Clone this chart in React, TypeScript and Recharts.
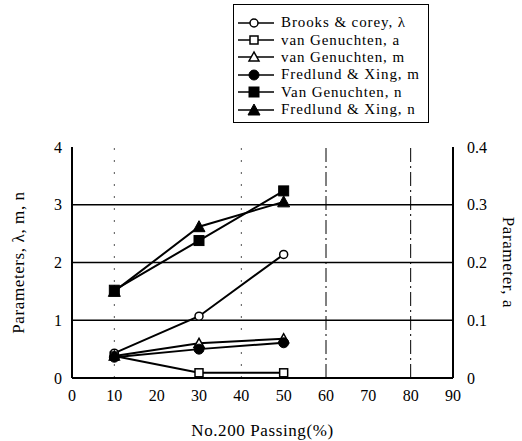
import React from 'react';
import { LineChart, Line, XAxis, YAxis, ReferenceLine } from 'recharts';

const passing = [10, 30, 50];
const brooksLambda = [0.43, 1.07, 2.14];
const vgA = [0.038, 0.009, 0.009];
const vgM = [0.38, 0.6, 0.68];
const fxM = [0.36, 0.5, 0.61];
const vgN = [1.52, 2.38, 3.24];
const fxN = [1.5, 2.62, 3.05];

const xTicks = [0, 10, 20, 30, 40, 50, 60, 70, 80, 90];
const leftTicks = [0, 1, 2, 3, 4];
const rightTicks = [0, 0.1, 0.2, 0.3, 0.4];

const data = passing.map((p, i) => ({
  x: p,
  bl: brooksLambda[i],
  va: vgA[i],
  vm: vgM[i],
  fm: fxM[i],
  vn: vgN[i],
  fn: fxN[i],
}));

type Shape = 'oc' | 'os' | 'ot' | 'fc' | 'fs' | 'ft';

const marker = (shape: Shape, cx: number, cy: number, key?: any) => {
  const sw = 1.5;
  switch (shape) {
    case 'oc':
      return <circle key={key} cx={cx} cy={cy} r={4} fill="#fff" stroke="#000" strokeWidth={sw} />;
    case 'os':
      return <rect key={key} x={cx - 4} y={cy - 4} width={8} height={8} fill="#fff" stroke="#000" strokeWidth={sw} />;
    case 'ot':
      return <polygon key={key} points={`${cx},${cy - 5} ${cx - 5},${cy + 4} ${cx + 5},${cy + 4}`} fill="#fff" stroke="#000" strokeWidth={sw} />;
    case 'fc':
      return <circle key={key} cx={cx} cy={cy} r={5} fill="#000" stroke="#000" />;
    case 'fs':
      return <rect key={key} x={cx - 5} y={cy - 5} width={10} height={10} fill="#000" stroke="#000" />;
    case 'ft':
      return <polygon key={key} points={`${cx},${cy - 6} ${cx - 6},${cy + 5} ${cx + 6},${cy + 5}`} fill="#000" stroke="#000" />;
  }
};

const dotFn = (shape: Shape) => (props: any) => marker(shape, props.cx, props.cy, `${shape}-${props.index}`);

const series: { key: string; name: string; shape: Shape; axis: string }[] = [
  { key: 'bl', name: 'Brooks & corey, λ', shape: 'oc', axis: 'left' },
  { key: 'va', name: 'van Genuchten, a', shape: 'os', axis: 'right' },
  { key: 'vm', name: 'van Genuchten, m', shape: 'ot', axis: 'left' },
  { key: 'fm', name: 'Fredlund & Xing, m', shape: 'fc', axis: 'left' },
  { key: 'vn', name: 'Van Genuchten, n', shape: 'fs', axis: 'left' },
  { key: 'fn', name: 'Fredlund & Xing, n', shape: 'ft', axis: 'left' },
];

const font = '"Liberation Serif", "DejaVu Serif", serif';

const LegendBox = () => (
  <div
    style={{
      position: 'absolute',
      left: 233,
      top: 4,
      border: '1.5px solid #000',
      width: 196,
      height: 119,
      boxSizing: 'border-box',
      padding: '9px 0 0 0',
      background: '#fff',
      fontFamily: font,
      fontSize: 15,
      color: '#000',
      overflow: 'hidden',
    }}
  >
    {series.map((s) => (
      <div key={s.key} style={{ display: 'flex', alignItems: 'center', height: 17.4 }}>
        <svg width={40} height={14} style={{ marginLeft: 2, marginRight: 5, flex: 'none' }}>
          <line x1={2} y1={7} x2={38} y2={7} stroke="#000" strokeWidth={1.5} />
          {marker(s.shape, 18, 7)}
        </svg>
        <span style={{ whiteSpace: 'nowrap', letterSpacing: 0.9 }}>{s.name}</span>
      </div>
    ))}
  </div>
);

export default function App() {
  const tickStyle = { fontFamily: font, fontSize: 16, fill: '#000' };
  return (
    <div style={{ position: 'absolute', left: 0, top: 0, width: 522, height: 441, background: '#fff' }}>
      <LineChart
        width={522}
        height={441}
        data={data}
        margin={{ top: 147, right: 19, bottom: 23, left: 22 }}
      >
        <XAxis
          dataKey="x"
          type="number"
          domain={[0, 90]}
          ticks={xTicks}
          interval={0}
          height={40}
          tick={tickStyle}
          tickLine={false}
          axisLine={{ stroke: '#000', strokeWidth: 2 }}
          tickMargin={6}
          label={{ value: 'No.200 Passing(%)', position: 'insideBottom', offset: -18, style: { fontFamily: font, fontSize: 17, fill: '#000', letterSpacing: 0.6 } }}
        />
        <YAxis
          yAxisId="left"
          domain={[0, 4]}
          ticks={leftTicks}
          interval={0}
          width={50}
          tick={tickStyle}
          tickLine={false}
          axisLine={{ stroke: '#000', strokeWidth: 2 }}
          tickMargin={4}
          label={{ value: 'Parameters, λ, m, n', angle: -90, position: 'insideLeft', offset: -4, style: { fontFamily: font, fontSize: 17, fill: '#000', textAnchor: 'middle', letterSpacing: 0.6 } }}
        />
        <YAxis
          yAxisId="right"
          orientation="right"
          domain={[0, 0.4]}
          ticks={rightTicks}
          interval={0}
          width={50}
          tick={tickStyle}
          tickFormatter={(v: number) => (v === 0 ? '0' : v.toFixed(1))}
          tickLine={false}
          axisLine={{ stroke: '#000', strokeWidth: 2 }}
          tickMargin={8}
          label={{ value: 'Parameter, a', angle: 90, position: 'insideRight', offset: -6, style: { fontFamily: font, fontSize: 17, fill: '#000', textAnchor: 'middle', letterSpacing: 0.6 } }}
        />
        {[1, 2, 3].map((v) => (
          <ReferenceLine key={`h${v}`} yAxisId="left" y={v} stroke="#000" strokeWidth={1.5} />
        ))}
        {[60, 80].map((v) => (
          <ReferenceLine key={`v${v}`} yAxisId="left" x={v} stroke="#000" strokeWidth={1} strokeDasharray="14 4 2 4" />
        ))}
        {[10, 40].map((v) => (
          <ReferenceLine key={`d${v}`} yAxisId="left" x={v} stroke="#555" strokeWidth={1} strokeDasharray="2 10" />
        ))}
        {series.map((s) => (
          <Line
            key={s.key}
            yAxisId={s.axis}
            dataKey={s.key}
            name={s.name}
            stroke="#000"
            strokeWidth={2}
            dot={dotFn(s.shape)}
            activeDot={false}
            isAnimationActive={false}
          />
        ))}
      </LineChart>
      <LegendBox />
    </div>
  );
}
